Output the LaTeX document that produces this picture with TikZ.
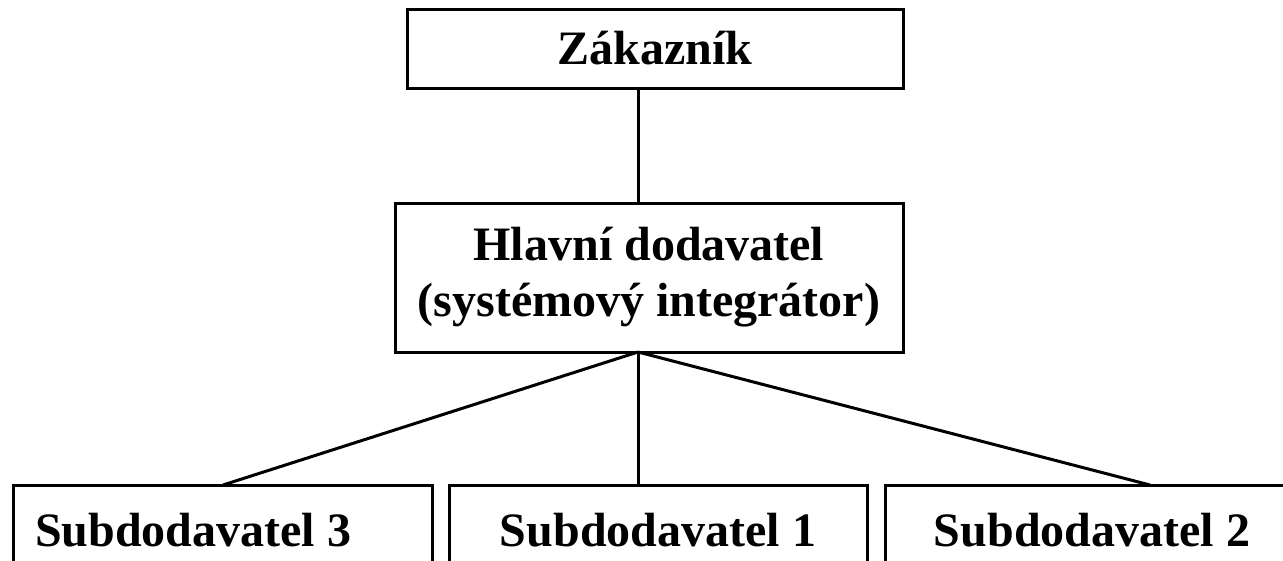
\documentclass[tikz,border=0pt]{standalone}
\usepackage{fontspec}
\setmainfont{Liberation Serif}
\begin{document}
\begin{tikzpicture}[x=1pt,y=-1pt,
  box/.style={draw=black,line width=3pt,rectangle,inner sep=0pt,
    font=\fontsize{48}{56}\selectfont\bfseries,align=center},
  conn/.style={draw=black,line width=3pt}]
\useasboundingbox (0,0) rectangle (1283,560);
\node[box,minimum width=496pt,minimum height=79pt] (zak) at (655,48.5) {Zákazník};
\node[box,minimum width=508pt,minimum height=149pt] (hlav) at (649,277.5) {Hlavní dodavatel\\(systémový integrátor)};
\node[box,minimum width=419pt,minimum height=90pt,text width=375pt,align=flush left] (s3) at (222.5,530) {Subdodavatel 3};
\node[box,minimum width=418pt,minimum height=90pt] (s1) at (658,530) {Subdodavatel 1};
\node[box,minimum width=414pt,minimum height=90pt] (s2) at (1092,530) {Subdodavatel 2};
\coordinate (hub) at (638,352);
\coordinate (top) at (638,88);
\coordinate (a3) at (223,485);
\coordinate (a1) at (638,485);
\coordinate (a2) at (1150,485);
\draw[conn] (top) -- (hlav.north -| top);
\draw[conn] (hub) -- (a3);
\draw[conn] (hub) -- (a1);
\draw[conn] (hub) -- (a2);
\end{tikzpicture}
\end{document}
